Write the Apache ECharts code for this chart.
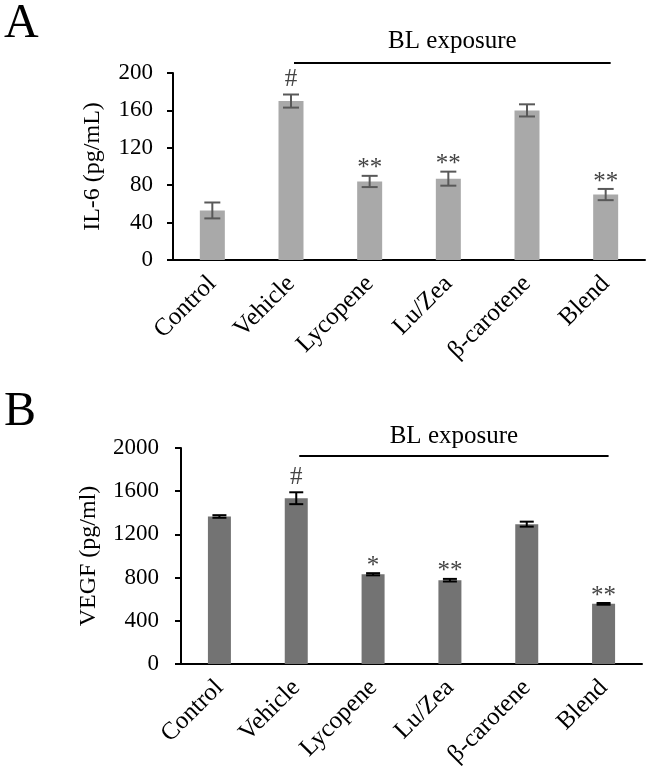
<!DOCTYPE html>
<html>
<head>
<meta charset="utf-8">
<script src="https://cdn.jsdelivr.net/npm/echarts@6/dist/echarts.min.js"></script>
<style>
  html, body { margin: 0; padding: 0; background: #fff; }
  #main { width: 646px; height: 779px; }
</style>
</head>
<body>
<div id="main"></div>
<script>
// 数据
var categories = ['Control', 'Vehicle', 'Lycopene', 'Lu/Zea', 'β-carotene', 'Blend'];

var il6Values = [53, 170, 84, 87, 160, 70];
var il6Errors = [8.5, 7, 6, 7.5, 6.5, 6];
var il6Signs = ['', '#', '**', '**', '', '**'];
var il6Ticks = [0, 40, 80, 120, 160, 200];

var vegfValues = [1366, 1535, 831, 776, 1295, 557];
var vegfErrors = [12, 55, 10, 12, 23, 8];
var vegfSigns = ['', '#', '*', '**', '', '**'];
var vegfTicks = [0, 400, 800, 1200, 1600, 2000];

var serif = '"Liberation Serif", "Times New Roman", serif';

function errData(values, errors) {
  return values.map(function (v, i) {
    return [i, v - errors[i], v + errors[i]];
  });
}

// 误差线 + 显著性标记
function errRender(color, cap, signs) {
  return function (params, api) {
    var i = api.value(0);
    var top = api.coord([i, api.value(2)]);
    var bot = api.coord([i, api.value(1)]);
    var x = top[0];
    var style = { stroke: color, lineWidth: 2 };
    var sign = signs[params.dataIndex];
    var children = [
      { type: 'line', shape: { x1: x, y1: top[1], x2: x, y2: bot[1] }, style: style },
      { type: 'line', shape: { x1: x - cap / 2, y1: top[1], x2: x + cap / 2, y2: top[1] }, style: style },
      { type: 'line', shape: { x1: x - cap / 2, y1: bot[1], x2: x + cap / 2, y2: bot[1] }, style: style }
    ];
    if (sign) {
      children.push({
        type: 'text',
        style: {
          text: sign,
          x: x,
          y: top[1] - (sign === '#' ? 15 : 7),
          align: 'center',
          verticalAlign: 'middle',
          fontSize: 25,
          fontFamily: serif,
          fill: '#444'
        }
      });
    }
    return { type: 'group', children: children };
  };
}

function yAxisOf(gridIndex, ticks, name, nameGap, margin) {
  return {
    gridIndex: gridIndex,
    type: 'value',
    min: ticks[0],
    max: ticks[ticks.length - 1],
    interval: ticks[1] - ticks[0],
    name: name,
    nameLocation: 'middle',
    nameGap: nameGap,
    nameTextStyle: { fontSize: 24, fontFamily: serif, color: '#000' },
    axisLine: { show: true, lineStyle: { color: '#000', width: 2 } },
    axisTick: { show: true, length: 6, lineStyle: { color: '#000', width: 2 } },
    axisLabel: {
      fontSize: 23, fontFamily: serif, color: '#000', margin: margin,
      formatter: function (v) { return String(v); }
    },
    splitLine: { show: false }
  };
}

function xAxisOf(gridIndex) {
  return {
    gridIndex: gridIndex,
    type: 'category',
    data: categories,
    axisLine: { lineStyle: { color: '#000', width: 2 } },
    axisTick: { length: 7, lineStyle: { color: '#000', width: 2 } },
    axisLabel: { rotate: 45, fontSize: 25, fontFamily: serif, color: '#000', margin: 20, interval: 0 }
  };
}

var myChart = echarts.init(document.getElementById('main'));

var option = {
  animation: false,
  backgroundColor: '#fff',
  grid: [
    { left: 173, top: 73, width: 472, height: 187 },
    { left: 181, top: 448, width: 461, height: 216 }
  ],
  xAxis: [xAxisOf(0), xAxisOf(1)],
  yAxis: [
    yAxisOf(0, il6Ticks, 'IL-6 (pg/mL)', 68, 20),
    yAxisOf(1, vegfTicks, 'VEGF (pg/ml)', 80, 22)
  ],
  series: [
    {
      type: 'bar', xAxisIndex: 0, yAxisIndex: 0,
      data: il6Values, barWidth: 25,
      itemStyle: { color: '#a9a9a9' }
    },
    {
      type: 'custom', xAxisIndex: 0, yAxisIndex: 0,
      data: errData(il6Values, il6Errors),
      renderItem: errRender('#595959', 16, il6Signs),
      z: 5
    },
    {
      type: 'bar', xAxisIndex: 1, yAxisIndex: 1,
      data: vegfValues, barWidth: 23,
      itemStyle: { color: '#737373' }
    },
    {
      type: 'custom', xAxisIndex: 1, yAxisIndex: 1,
      data: errData(vegfValues, vegfErrors),
      renderItem: errRender('#000', 14, vegfSigns),
      z: 5
    }
  ]
};

myChart.setOption(option);

// BL exposure 横线与面板字母
function bracket(gridIndex, yPix, textY) {
  var a = myChart.convertToPixel({ xAxisIndex: gridIndex, yAxisIndex: gridIndex }, [1, 0]);
  var b = myChart.convertToPixel({ xAxisIndex: gridIndex, yAxisIndex: gridIndex }, [5, 0]);
  return [
    { type: 'line', shape: { x1: a[0] + 3, y1: yPix, x2: b[0] + 5, y2: yPix }, style: { stroke: '#000', lineWidth: 2 } },
    { type: 'text', style: { text: 'BL exposure', x: (a[0] + b[0]) / 2 + 4, y: textY, align: 'center', verticalAlign: 'middle', fontSize: 25, fontFamily: serif, fill: '#000' } }
  ];
}

var labelStyle = { fontSize: 48, fontFamily: serif, fill: '#000' };
myChart.setOption({
  graphic: bracket(0, 63, 41).concat(bracket(1, 456, 436)).concat([
    { type: 'text', left: 4, top: 0, style: Object.assign({ text: 'A' }, labelStyle) },
    { type: 'text', left: 4, top: 388, style: Object.assign({ text: 'B' }, labelStyle) }
  ])
});
</script>
</body>
</html>
